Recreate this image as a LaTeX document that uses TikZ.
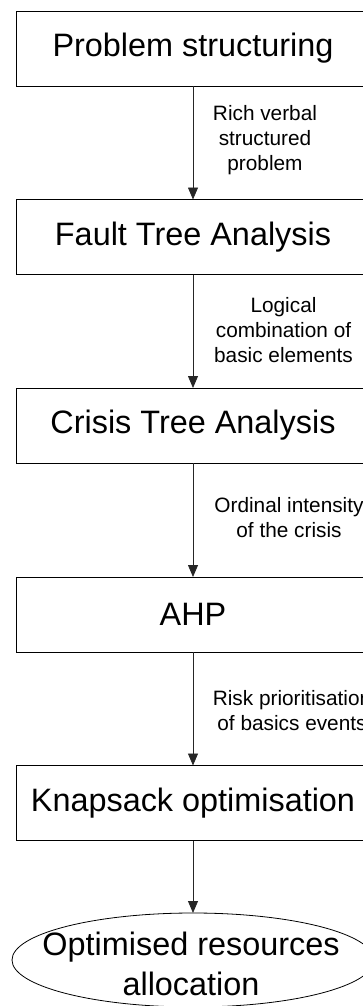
\documentclass[tikz,border=0pt]{standalone}
\usepackage{fontspec}
\setmainfont{Liberation Sans}
\usetikzlibrary{arrows.meta,shapes.geometric}
\tikzset{
  procbox/.style={draw=black, line width=0.8pt, minimum width=354pt, minimum height=75pt,
    inner sep=0pt, outer sep=0pt, font=\fontsize{32.4}{40}\selectfont},
  endell/.style={ellipse, draw=black, line width=0.8pt, minimum width=362pt, minimum height=94pt,
    inner sep=0pt, outer sep=0pt},
  endtext/.style={align=center, inner sep=0pt, font=\fontsize{32.4}{40}\selectfont},
  flowarr/.style={draw=black!85, line width=0.8pt, -{Triangle[width=10pt,length=12pt]}},
  lbl/.style={align=center, inner sep=0pt, font=\fontsize{20.8}{25}\selectfont}
}
\begin{document}
\begin{tikzpicture}[x=1pt,y=-1pt]
\useasboundingbox (0,0) rectangle (363,1006);
\clip (0,0) rectangle (363,1006);
\node[procbox] (b1) at (193,48.5) {Problem structuring};
\node[procbox] (b2) at (193,237) {Fault Tree Analysis};
\node[procbox] (b3) at (193,425.5) {Crisis Tree Analysis};
\node[procbox] (b4) at (193,614.5) {AHP};
\node[procbox] (b5) at (193,803) {Knapsack optimisation};
\node[endell] (e6) at (193,960) {};
\node[endtext] (e6t) at (191,964) {Optimised resources\\allocation};
\draw[flowarr] (b1) -- (b2);
\draw[flowarr] (b2) -- (b3);
\draw[flowarr] (b3) -- (b4);
\draw[flowarr] (b4) -- (b5);
\draw[flowarr] (b5) -- (e6);
\node[lbl] (l1) at (265,140) {Rich verbal\\structured\\problem};
\node[lbl] (l2) at (283.5,330) {Logical\\combination of\\basic elements};
\node[lbl] (l3) at (289,517.5) {Ordinal intensity\\of the crisis};
\node[lbl] (l4) at (292,711) {Risk prioritisation\\of basics events};
\end{tikzpicture}
\end{document}
